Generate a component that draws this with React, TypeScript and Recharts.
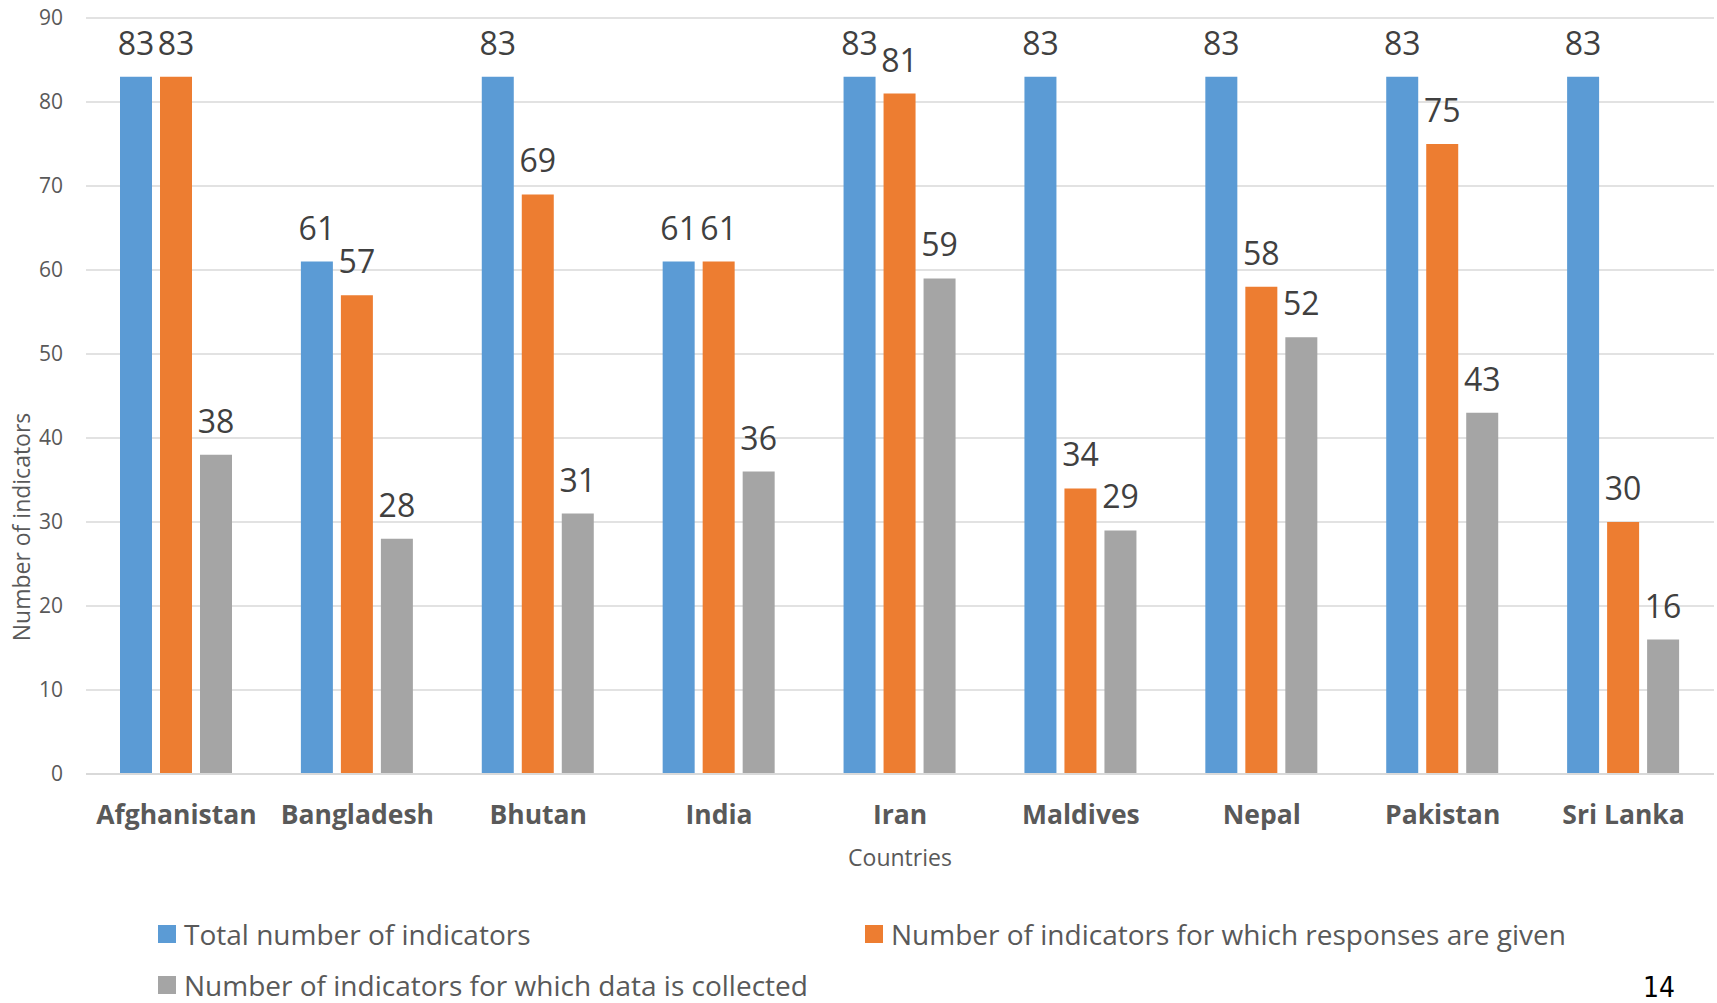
import { BarChart, Bar, XAxis, YAxis, CartesianGrid, Legend, LabelList } from 'recharts';

const countries = ['Afghanistan', 'Bangladesh', 'Bhutan', 'India', 'Iran', 'Maldives', 'Nepal', 'Pakistan', 'Sri Lanka'];
const totalIndicators = [83, 61, 83, 61, 83, 83, 83, 83, 83];
const responsesGiven = [83, 57, 69, 61, 81, 34, 58, 75, 30];
const dataCollected = [38, 28, 31, 36, 59, 29, 52, 43, 16];
const yTicks = [0, 10, 20, 30, 40, 50, 60, 70, 80, 90];

const SERIES = [
    { key: 'total', name: 'Total number of indicators', color: '#5B9BD5' },
    { key: 'responses', name: 'Number of indicators for which responses are given', color: '#ED7D31' },
    { key: 'collected', name: 'Number of indicators for which data is collected', color: '#A5A5A5' }
];

const FONT = "'Open Sans', sans-serif";

const chartData = countries.map((country, i) => ({
    country,
    total: totalIndicators[i],
    responses: responsesGiven[i],
    collected: dataCollected[i]
}));

// legend positions are relative to the legend box under the x axis
const legendSpots = [
    { left: 158, top: 60 },
    { left: 865, top: 60 },
    { left: 158, top: 111 }
];

function LegendBlock() {
    return (
        <div style={{ position: 'relative', width: 1717, height: 129 }}>
            {SERIES.map((s, i) => (
                <div
                    key={s.key}
                    style={{
                        position: 'absolute',
                        left: legendSpots[i].left,
                        top: legendSpots[i].top,
                        transform: 'translateY(-50%)',
                        display: 'flex',
                        alignItems: 'center',
                        whiteSpace: 'nowrap',
                        lineHeight: '28px'
                    }}
                >
                    <span style={{ width: 18, height: 18, background: s.color, display: 'inline-block', marginRight: 8 }} />
                    <span style={{ fontFamily: FONT, fontSize: 28, lineHeight: '28px', color: '#595959' }}>{s.name}</span>
                </div>
            ))}
        </div>
    );
}

export default function App() {
    return (
        <div style={{ position: 'absolute', left: 0, top: 0, width: 1717, height: 1003, background: '#fff' }}>
            <BarChart
                width={1717}
                height={1003}
                data={chartData}
                margin={{ top: 18, right: 3, bottom: 0, left: 0 }}
                barGap={8}
                style={{ fontFamily: FONT }}
            >
                <CartesianGrid vertical={false} stroke="#d9d9d9" strokeWidth={1.5} />
                <XAxis
                    dataKey="country"
                    height={100}
                    tickSize={0}
                    tickMargin={31}
                    tickLine={false}
                    axisLine={{ stroke: '#d9d9d9', strokeWidth: 2 }}
                    tick={{ fill: '#595959', fontSize: 26.5, fontWeight: 700 }}
                    interval={0}
                    label={{ value: 'Countries', position: 'insideBottom', offset: 8, fill: '#595959', fontSize: 23 }}
                />
                <YAxis
                    width={86}
                    domain={[0, 90]}
                    ticks={yTicks}
                    tickSize={0}
                    tickMargin={23}
                    tickLine={false}
                    axisLine={false}
                    tick={{ fill: '#595959', fontSize: 21 }}
                    label={{
                        value: 'Number of indicators',
                        angle: -90,
                        position: 'insideLeft',
                        offset: 0,
                        dx: 22,
                        dy: 131,
                        fill: '#595959',
                        fontSize: 23,
                        style: { textAnchor: 'middle' }
                    }}
                />
                <Legend verticalAlign="bottom" wrapperStyle={{ left: 0, width: 1717, bottom: 0 }} content={() => <LegendBlock />} />
                {SERIES.map(s => (
                    <Bar key={s.key} dataKey={s.key} name={s.name} fill={s.color} barSize={32} isAnimationActive={false}>
                        <LabelList dataKey={s.key} position="top" offset={22} fill="#404040" fontSize={32} />
                    </Bar>
                ))}
            </BarChart>
            <div
                style={{
                    position: 'absolute',
                    left: 1643,
                    top: 974,
                    fontFamily: "'Liberation Sans Narrow', 'DejaVu Sans Condensed', sans-serif",
                    fontSize: 28,
                    lineHeight: '28px',
                    color: '#000'
                }}
            >
                14
            </div>
        </div>
    );
}
